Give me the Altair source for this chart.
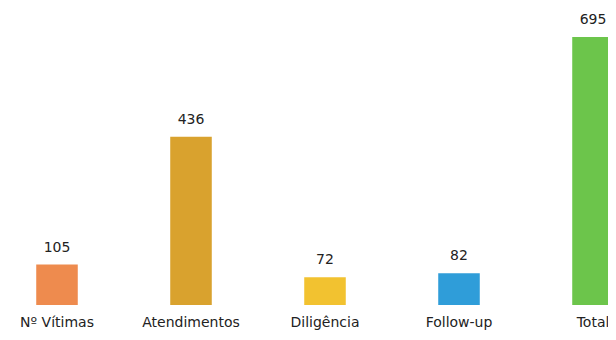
import altair as alt
import pandas as pd

categories = ["Nº Vítimas", "Atendimentos", "Diligência", "Follow-up", "Total"]
values = [105, 436, 72, 82, 695]
colors = ["#EE8B4E", "#D9A22E", "#F2C230", "#2F9DD9", "#6CC54B"]

df = pd.DataFrame({"cat": categories, "val": values})

x = alt.X("cat:N", sort=categories,
          scale=alt.Scale(range=[-18, 652], paddingInner=0.69, paddingOuter=0.345),
          axis=alt.Axis(title=None, domain=False, ticks=False, labelAngle=0,
                        labelFont="DejaVu Sans", labelFontSize=14, labelColor="#222222",
                        labelPadding=10))
y = alt.Y("val:Q", scale=alt.Scale(domain=[0, 770], nice=False), axis=None)

bars = alt.Chart(df).mark_bar().encode(
    x=x, y=y,
    color=alt.Color("cat:N", scale=alt.Scale(domain=categories, range=colors), legend=None),
)
labels = alt.Chart(df).mark_text(baseline="bottom", dy=-10, font="DejaVu Sans",
                                 fontSize=14, color="#222222").encode(
    x=x, y=y, text="val:Q")

chart = (bars + labels).properties(
    width=600, height=297,
    autosize=alt.AutoSizeParams(type="none"),
    padding={"left": 0, "right": 0, "top": 0, "bottom": 27},
).configure_view(stroke=None)

chart.save("out.html", embed_options={"renderer": "svg", "actions": False})
